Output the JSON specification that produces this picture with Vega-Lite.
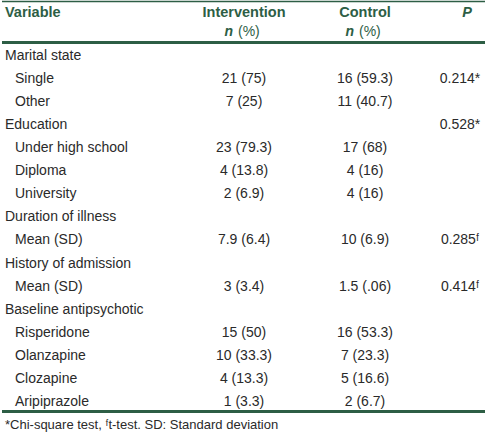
{
  "$schema": "https://vega.github.io/schema/vega-lite/v6.json",
  "width": 487,
  "height": 433,
  "padding": 0,
  "autosize": {"type": "fit", "contains": "padding"},
  "background": "white",
  "config": {"view": {"stroke": null}, "text": {"font": "Liberation Sans", "fontSize": 14, "baseline": "middle"}},
  "datasets": {
    "rules": [
      {"row": -1.356, "kind": "thin"},
      {"row": 0.416, "kind": "thick"},
      {"row": 16.41, "kind": "thick"}
    ],
    "header": [
      {"row": -0.86, "col": 0, "text": "Variable"},
      {"row": -0.86, "col": 2, "text": "Intervention"},
      {"row": -0.86, "col": 3, "text": "Control"}
    ],
    "headerP": [{"row": -0.86, "col": 4, "text": "P"}],
    "headerN": [
      {"row": -0.04, "col": 2, "text": "n"},
      {"row": -0.04, "col": 3, "text": "n"}
    ],
    "headerPct": [
      {"row": -0.04, "col": 2, "text": "(%)"},
      {"row": -0.04, "col": 3, "text": "(%)"}
    ],
    "labels": [
      {"row": 1, "col": 0, "text": "Marital state"},
      {"row": 2, "col": 1, "text": "Single"},
      {"row": 3, "col": 1, "text": "Other"},
      {"row": 4, "col": 0, "text": "Education"},
      {"row": 5, "col": 1, "text": "Under high school"},
      {"row": 6, "col": 1, "text": "Diploma"},
      {"row": 7, "col": 1, "text": "University"},
      {"row": 8, "col": 0, "text": "Duration of illness"},
      {"row": 9, "col": 1, "text": "Mean (SD)"},
      {"row": 10, "col": 0, "text": "History of admission"},
      {"row": 11, "col": 1, "text": "Mean (SD)"},
      {"row": 12, "col": 0, "text": "Baseline antipsychotic"},
      {"row": 13, "col": 1, "text": "Risperidone"},
      {"row": 14, "col": 1, "text": "Olanzapine"},
      {"row": 15, "col": 1, "text": "Clozapine"},
      {"row": 16, "col": 1, "text": "Aripiprazole"}
    ],
    "cells": [
      {"row": 2, "col": 2, "text": "21 (75)"},
      {"row": 2, "col": 3, "text": "16 (59.3)"},
      {"row": 2, "col": 4, "text": "0.214*"},
      {"row": 3, "col": 2, "text": "7 (25)"},
      {"row": 3, "col": 3, "text": "11 (40.7)"},
      {"row": 4, "col": 4, "text": "0.528*"},
      {"row": 5, "col": 2, "text": "23 (79.3)"},
      {"row": 5, "col": 3, "text": "17 (68)"},
      {"row": 6, "col": 2, "text": "4 (13.8)"},
      {"row": 6, "col": 3, "text": "4 (16)"},
      {"row": 7, "col": 2, "text": "2 (6.9)"},
      {"row": 7, "col": 3, "text": "4 (16)"},
      {"row": 9, "col": 2, "text": "7.9 (6.4)"},
      {"row": 9, "col": 3, "text": "10 (6.9)"},
      {"row": 9, "col": 4, "text": "0.285ᶠ"},
      {"row": 11, "col": 2, "text": "3 (3.4)"},
      {"row": 11, "col": 3, "text": "1.5 (.06)"},
      {"row": 11, "col": 4, "text": "0.414ᶠ"},
      {"row": 13, "col": 2, "text": "15 (50)"},
      {"row": 13, "col": 3, "text": "16 (53.3)"},
      {"row": 14, "col": 2, "text": "10 (33.3)"},
      {"row": 14, "col": 3, "text": "7 (23.3)"},
      {"row": 15, "col": 2, "text": "4 (13.3)"},
      {"row": 15, "col": 3, "text": "5 (16.6)"},
      {"row": 16, "col": 2, "text": "1 (3.3)"},
      {"row": 16, "col": 3, "text": "2 (6.7)"}
    ],
    "note": [
      {"row": 17.0, "col": 0, "text": "*Chi-square test, ᶠt-test. SD: Standard deviation"}
    ]
  },
  "encoding": {
    "y": {"field": "row", "type": "quantitative", "axis": null, "scale": {"domain": [-1.378, 17.343], "reverse": true, "nice": false, "zero": false}},
    "x": {"field": "col", "type": "quantitative", "axis": null, "scale": {"domain": [0, 1, 2, 3, 4], "range": [3, 13, 242, 363, 458], "nice": false, "zero": false}}
  },
  "layer": [
    {
      "data": {"name": "rules"},
      "mark": {"type": "rule", "color": "#2d5e45"},
      "encoding": {
        "x": null,
        "strokeWidth": {"field": "kind", "type": "nominal", "scale": {"domain": ["thin", "thick"], "range": [1.5, 3]}, "legend": null}
      }
    },
    {
      "data": {"name": "header"},
      "mark": {"type": "text", "fontWeight": "bold", "fontSize": 14.5, "color": "#2d5e45", "align": {"expr": "datum.col == 0 ? 'left' : 'center'"}},
      "encoding": {"text": {"field": "text"}}
    },
    {
      "data": {"name": "headerP"},
      "mark": {"type": "text", "fontWeight": "bold", "fontStyle": "italic", "fontSize": 14.5, "color": "#2d5e45", "align": "center", "dx": 7},
      "encoding": {"text": {"field": "text"}}
    },
    {
      "data": {"name": "headerN"},
      "mark": {"type": "text", "fontWeight": "bold", "fontStyle": "italic", "color": "#2d5e45", "align": "right", "dx": -11},
      "encoding": {"text": {"field": "text"}}
    },
    {
      "data": {"name": "headerPct"},
      "mark": {"type": "text", "color": "#2d5e45", "align": "left", "dx": -6},
      "encoding": {"text": {"field": "text"}}
    },
    {
      "data": {"name": "labels"},
      "mark": {"type": "text", "color": "#2a2a2a", "align": "left"},
      "encoding": {"text": {"field": "text"}}
    },
    {
      "data": {"name": "cells"},
      "mark": {"type": "text", "color": "#2a2a2a", "align": "center"},
      "encoding": {"text": {"field": "text"}}
    },
    {
      "data": {"name": "note"},
      "mark": {"type": "text", "color": "#2a2a2a", "align": "left", "fontSize": 13},
      "encoding": {"text": {"field": "text"}}
    }
  ]
}
